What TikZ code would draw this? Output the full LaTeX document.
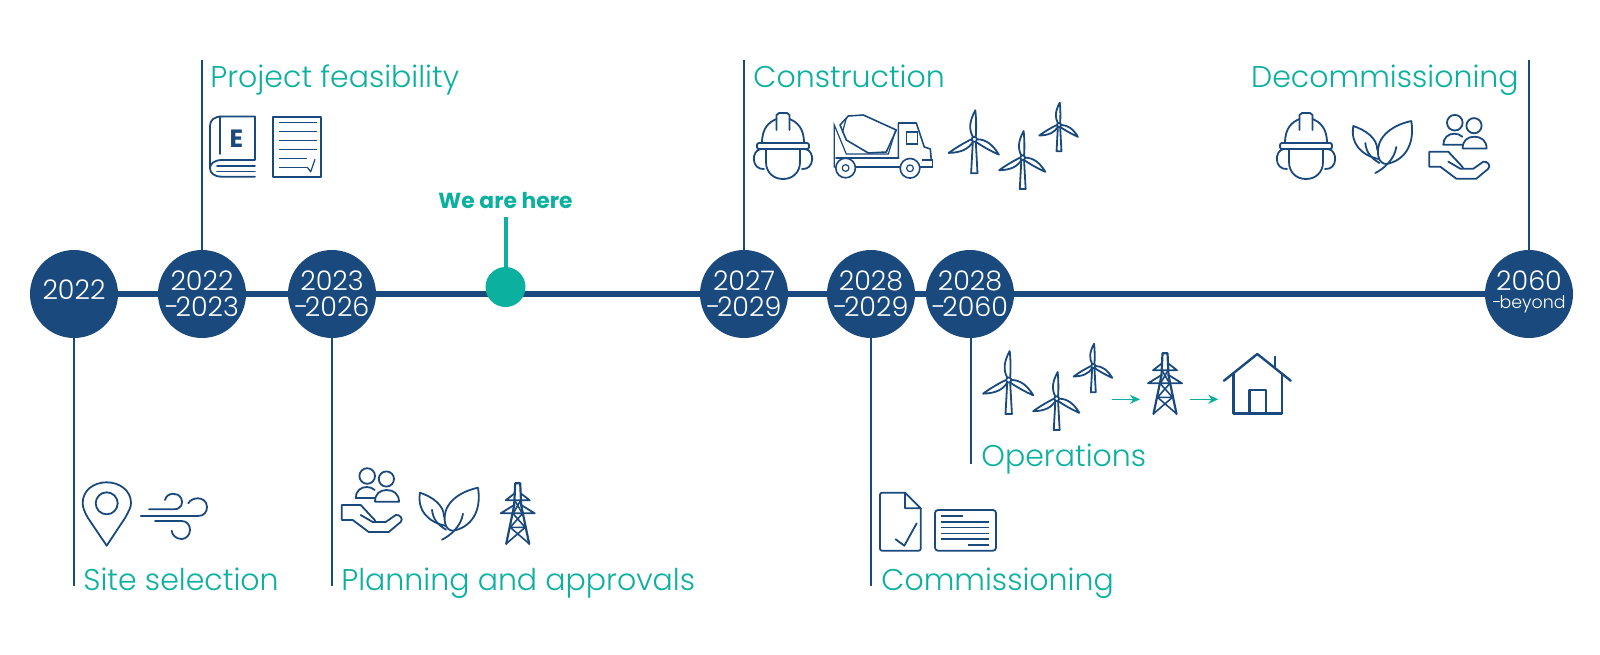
\documentclass[tikz,border=0pt]{standalone}
\usepackage{fontspec}
\setmainfont{Poppins}[UprightFont=* Light, BoldFont=* Bold]
\usepackage{xcolor}
\usetikzlibrary{arrows.meta}
\definecolor{lineblue}{HTML}{1A4A7D}
\definecolor{seagreen}{HTML}{0BB09F}
\newcommand{\twolines}[2]{\makebox[0pt]{\raisebox{1.65pt}[0pt][0pt]{#1}}\makebox[0pt]{\raisebox{-11.35pt}[0pt][0pt]{-\kern-1.8pt #2}}}
\tikzset{
    year/.style={circle, fill=lineblue, text=white, minimum size=44pt, inner sep=0pt, font=\fontsize{13.5}{13}\selectfont},
    spine/.style={draw=lineblue, line width=3pt},
    leader/.style={draw=lineblue, line width=0.55pt},
    stage/.style={text=seagreen, inner sep=0pt, font=\fontsize{15}{18}\selectfont},
    icon/.style={draw=lineblue, line width=0.9pt, line join=round, line cap=round},
    thinicon/.style={draw=lineblue, line width=0.6pt},
    flow/.style={draw=seagreen, line width=0.8pt, -{Stealth[length=5pt,width=4.5pt]}},
    turbine/.pic={
        \foreach \bladeangle in {0,120,240}
            \draw[icon, rotate=\bladeangle] (-1.5,-2.5) .. controls (-5.5,-10) and (-5,-18) .. (1,-29) .. controls (2,-20) and (2,-10) .. (1.5,-3);
        \draw[icon] (0,0) circle (1.3pt);
        \draw[icon] (-1.5,3) -- (-3.2,34) -- (3.2,34) -- (1.5,3);
    },
    pylon/.pic={
        \draw[icon, line width=1.1pt] (-3.5,22) -- (-2.5,0) -- (2.5,0) -- (3.5,22);
        \draw[icon, line width=1.1pt] (-3.5,22) -- (-11.5,60.7) (3.5,22) -- (11.5,60.7);
        \draw[icon] (-3,10) -- (-12,17) -- (12,17) -- (3,10);
        \draw[icon] (-4,22) -- (-17,30) -- (17,30) -- (4,22);
        \draw[icon, line width=0.8pt] (-3,17) -- (4.5,30) (3,17) -- (-4.5,30);
        \draw[icon, line width=0.8pt] (-5,30) -- (7.5,44) -- (-7.5,44) -- (5,30);
        \draw[icon, line width=0.8pt] (-7.5,44) -- (11,60) (7.5,44) -- (-11,60);
    },
    helmet/.pic={
        % shell
        \draw[icon] (-21,-3) .. controls (-21,-18) and (-14,-24) .. (-6.5,-27);
        \draw[icon] (21,-3) .. controls (21,-18) and (14,-24) .. (6.5,-27);
        \draw[icon] (-6.5,-16) -- (-6.5,-31) -- (-4,-33) -- (4,-33) -- (6.5,-31) -- (6.5,-16);
        \draw[icon, rounded corners=1pt] (-26,-3) rectangle (26,3);
        % ears and face
        \draw[icon] (-22,3) .. controls (-32,4) and (-32,24) .. (-19,23);
        \draw[icon] (22,3) .. controls (32,4) and (32,24) .. (19,23);
        \draw[icon] (-17,3) -- (-17,16) .. controls (-17,27) and (-9,33) .. (0,33) .. controls (9,33) and (17,27) .. (17,16) -- (17,3);
    },
    leaves/.pic={
        \draw[icon] (24,24) .. controls (24,12) and (12,4) .. (0,0) .. controls (-3,18) and (8,29) .. (25,33);
        \draw[icon] (12,17) .. controls (13,27) and (18,32) .. (26,37);
        \draw[icon] (58,-5) .. controls (35,0) and (22,14) .. (25,30) .. controls (26,36) and (30,38) .. (33,38) .. controls (50,35) and (62,20) .. (58,-5);
        \draw[icon] (43,21) .. controls (41,34) and (30,43) .. (22,47);
    },
    carehand/.pic={
        % people
        \draw[icon] (25.5,-29) circle (3.9pt);
        \draw[icon] (44.7,-26) circle (3.8pt);
        \draw[icon] (33,-7) -- (14,-7) .. controls (14,-14) and (19,-18) .. (25,-18) .. controls (28,-18) and (31,-17) .. (33,-15);
        \draw[icon] (33.3,-3.3) -- (57.3,-3.3) .. controls (57.3,-11) and (52,-15) .. (45,-15) .. controls (38,-15) and (33.3,-11) .. (33.3,-3.3);
        % hand
        \draw[icon] (19,10) -- (31,17) -- (44,17) -- (54,10) .. controls (58,9) and (62,14) .. (59,17) -- (47,27) -- (27,27) -- (11,15) -- (0,15) -- (0,0) -- (19,0) -- (33,15) .. controls (35,18) and (33,17) .. (31,17);
    },
}
\begin{document}
\begin{tikzpicture}[x=0.5pt, y=-0.5pt]
    \useasboundingbox (0,0) rectangle (1600,654);

    % Years
    \node[year] (y2022) at (74,294) {\makebox[0pt]{\raisebox{-2.65pt}[0pt][0pt]{2022}}};
    \node[year] (y2023) at (202,294) {\twolines{2022}{2023}};
    \node[year] (y2026) at (332,294) {\twolines{2023}{2026}};
    \node[year] (y2029a) at (744,294) {\twolines{2027}{2029}};
    \node[year] (y2029b) at (871,294) {\twolines{2028}{2029}};
    \node[year] (y2060a) at (970,294) {\twolines{2028}{2060}};
    \node[year] (y2060b) at (1529,294) {\makebox[0pt]{\raisebox{2pt}[0pt][0pt]{2060}}\makebox[0pt]{\raisebox{-7pt}[0pt][0pt]{\fontsize{8.7}{10}\selectfont -\kern-1pt beyond}}};

    % Line between the years
    \foreach \from/\to in {y2022/y2023,y2023/y2026,y2026/y2029a,y2029a/y2029b,y2029b/y2060a,y2060a/y2060b}
        \draw[spine] (\from) -- (\to);

    % We are here
    \node[text=seagreen, inner sep=0pt, anchor=base, font=\fontsize{10.9}{14}\selectfont\bfseries] (hereText) at (505.5,208) {We are here};
    \node[circle, fill=seagreen, minimum size=20pt, inner sep=0pt] (here) at (505.5,287) {};
    \coordinate (hereTop) at (505.5,217);
    \draw[draw=seagreen, line width=2pt] (hereTop) -- (here);

    % Leaders and their ends
    \coordinate (siteEnd) at (74,586);
    \coordinate (feasEnd) at (202,60);
    \coordinate (planEnd) at (332,586);
    \coordinate (consEnd) at (744,60);
    \coordinate (commEnd) at (871,586);
    \coordinate (operEnd) at (971,464);
    \coordinate (decoEnd) at (1529,60);
    \draw[leader] (y2022) -- (siteEnd);
    \draw[leader] (y2023) -- (feasEnd);
    \draw[leader] (y2026) -- (planEnd);
    \draw[leader] (y2029a) -- (consEnd);
    \draw[leader] (y2029b) -- (commEnd);
    \draw[leader] (y2060a.south -| operEnd) -- (operEnd);
    \draw[leader] (y2060b) -- (decoEnd);

    % Stage names
    \node[stage, anchor=base west] (feasibility) at (210,87) {Project feasibility};
    \node[stage, anchor=base west] (construction) at (753,87) {Construction};
    \node[stage, anchor=base east] (decommissioning) at (1519,87) {Decommissioning};
    \node[stage, anchor=base west] (operations) at (981,466) {Operations};
    \node[stage, anchor=base west] (siteselection) at (83,590) {Site selection};
    \node[stage, anchor=base west] (planning) at (341,590) {Planning and approvals};
    \node[stage, anchor=base west] (commissioning) at (881,590) {Commissioning};

    % Book and report
    \draw[icon] (222,116.5) -- (255,116.5) -- (255,160) -- (222,160) .. controls (214,160) and (210,164) .. (210,168) .. controls (210,173) and (214,176.7) .. (222,176.7) -- (255,176.7);
    \draw[icon] (222,116.5) .. controls (214,116.5) and (210,120) .. (210,126) -- (210,168);
    \draw[icon] (220,116.5) -- (220,154);
    \draw[icon] (217,166) -- (255,166) (217,171.5) -- (255,171.5);
    \node[text=lineblue, inner sep=0pt, font=\fontsize{12.5}{14}\selectfont\bfseries] (bookE) at (236.5,138.5) {E};
    \draw[icon] (273.3,116.7) rectangle (321,176.7);
    \foreach \rowy in {122.7,131.7,140.7,149.3}
        \draw[thinicon] (279,\rowy) -- (316.7,\rowy);
    \foreach \rowy in {158.3,167.3}
        \draw[thinicon] (279,\rowy) -- (306.7,\rowy);
    \draw[thinicon] (307.3,167.3) -- (310.7,171.7) -- (315,159.3);

    % Helmet, mixer truck and turbines
    \pic at (783,146) {helmet};
    \begin{scope}[shift={(834.3,125)}]
        \draw[icon, line width=0.8pt] (5.7,0) -- (14,-9) -- (29,-10) -- (62,5) -- (52,27) -- (34,28) -- (12,15) -- cycle;
        \draw[thinicon] (12,-7) -- (8,8);
        \draw[thinicon] (61,6) -- (54,29) -- (12,29) -- (0,0) -- (0,42) -- (2,42);
        \draw[icon, line width=1.4pt] (2,33) -- (64,33);
        \draw[icon, line width=0.8pt] (64,33) -- (64,-2) -- (82,-2) -- (90,22) -- (96,24) -- (97,35) -- (88,35);
        \draw[thinicon] (72,7) rectangle (83,19);
        \draw[thinicon] (21,42) -- (66,42) (86,42) -- (98,42) -- (98,35) -- (88,35);
        \draw[icon, line width=0.8pt] (11.3,43) circle (4.9pt) (75.7,43.3) circle (4.9pt);
        \draw[thinicon] (11.3,43) circle (1.7pt) (75.7,43.3) circle (1.7pt);
    \end{scope}
    \pic at (974.3,139.3) {turbine};
    \pic[scale=0.92] at (1022.7,157.7) {turbine};
    \pic[scale=0.77] at (1059,125) {turbine};

    % Decommissioning icons
    \pic at (1306,146) {helmet};
    \pic at (1353.3,126) {leaves};
    \pic at (1429.3,151.7) {carehand};

    % Operations icons
    \pic at (1008.7,380) {turbine};
    \pic[scale=0.92] at (1056.7,398.7) {turbine};
    \pic[scale=0.77] at (1093.3,366) {turbine};
    \pic at (1165,353.3) {pylon};
    \coordinate (flowA) at (1111.7,399.3);
    \coordinate (flowB) at (1140,399.3);
    \coordinate (flowC) at (1190,399.3);
    \coordinate (flowD) at (1218.3,399.3);
    \draw[flow] (flowA) -- (flowB);
    \draw[flow] (flowC) -- (flowD);
    % House
    \draw[icon, line width=1.2pt] (1224,380.7) -- (1257.3,354) -- (1290.7,380.7);
    \draw[icon, line width=1.2pt] (1233.3,373.5) -- (1233.3,413.3) -- (1281.7,413.3) -- (1281.7,373.5);
    \draw[icon, line width=1.2pt] (1249.3,413.3) -- (1249.3,390) -- (1265.7,390) -- (1265.7,413.3);
    \draw[icon, line width=1.2pt] (1275,356.7) -- (1275,368);

    % Pin and wind
    \draw[icon] (106.7,503.3) circle (5.5pt);
    \draw[icon] (106.7,545.7) -- (88,518) .. controls (84,511) and (82.7,507) .. (82.7,503) .. controls (82.7,490) and (94,482.3) .. (106.7,482.3) .. controls (119,482.3) and (131,490) .. (131,503) .. controls (131,507) and (129,511) .. (125,518) -- cycle;
    \draw[icon] (149,509.3) -- (174,509.3) .. controls (181,509.3) and (184,503) .. (181,498) .. controls (178,492) and (167,492) .. (165,500);
    \draw[icon] (140.7,516) -- (198,516) .. controls (204,516) and (207,512) .. (207,507) .. controls (207,501) and (202,498.3) .. (198,498.3) .. controls (194,498.3) and (190,500) .. (188.3,503.3);
    \draw[icon] (155,521) -- (181.7,521) .. controls (187,521) and (190,525) .. (190,530) .. controls (190,535) and (186,539) .. (181.7,539) .. controls (176,539) and (172,535) .. (171.7,530.7);

    % Planning icons
    \pic at (341.7,505) {carehand};
    \pic at (420,492.7) {leaves};
    \pic at (517.7,483.3) {pylon};

    % Signed page and certificate
    \draw[icon, rounded corners=1pt] (905,492.7) -- (880,492.7) -- (880,550.7) -- (920.7,550.7) -- (920.7,508.3);
    \draw[icon] (905,492.7) -- (920.7,508.3) -- (905,508.3) -- cycle;
    \draw[icon] (895.7,539.3) -- (904.3,545.7) -- (916.7,523.3);
    \draw[icon, rounded corners=1.5pt] (935,510) rectangle (996,550.7);
    \draw[thinicon] (941,516) -- (963.3,516);
    \foreach \rowy in {522,527.7,533.3,539}
        \draw[thinicon] (941,\rowy) -- (989,\rowy);
    \draw[thinicon] (967.7,545) -- (989,545);
\end{tikzpicture}
\end{document}
